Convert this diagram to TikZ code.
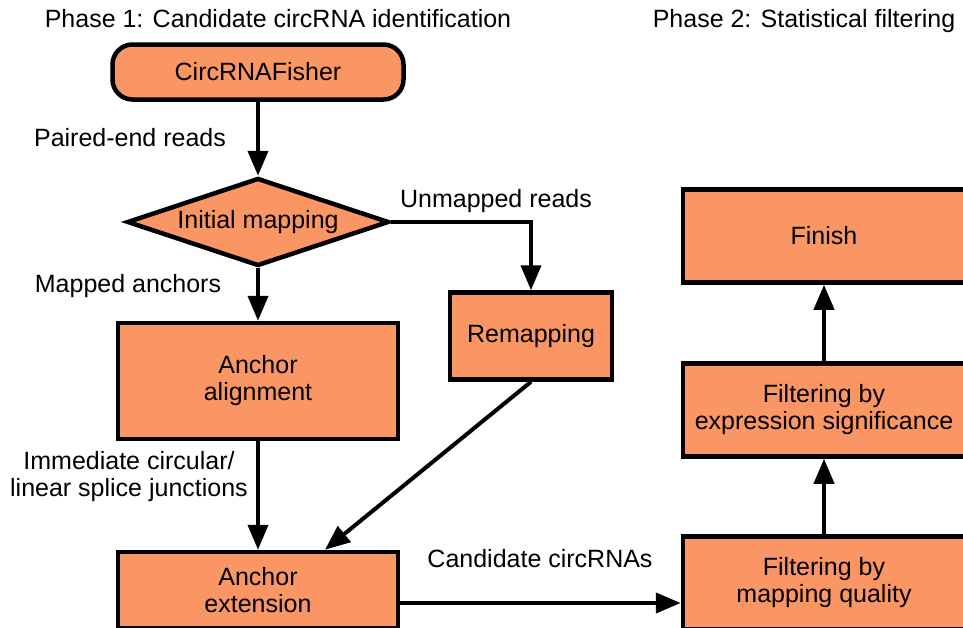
\documentclass[tikz,border=0pt]{standalone}
\usepackage{fontspec}
\setmainfont{Liberation Sans}
\usetikzlibrary{arrows.meta,positioning,shapes.geometric}
\definecolor{salmon}{RGB}{250,150,100}
\definecolor{ink}{RGB}{0,0,0}
\newcommand{\lblsize}{\fontsize{25}{27}\selectfont}
\tikzset{
  >={Triangle[length=25pt,width=20pt]},
  box/.style={draw=ink,fill=salmon,line width=4.5pt,align=center,font=\lblsize,
    inner sep=0pt,minimum width=280pt,minimum height=#1},
  box/.default=116pt,
  term/.style={box,rounded corners=20pt,minimum width=291pt,minimum height=55pt},
  decision/.style={diamond,draw=ink,fill=salmon,line width=4.5pt,font=\lblsize,
    inner sep=0pt,shape aspect=3,minimum width=262pt,minimum height=88pt},
  flow/.style={->,line width=4pt,draw=#1},
  flow/.default=ink,
  tag/.style={font=\lblsize,text=ink,align=center,inner sep=0pt},
}

\begin{document}
\begin{tikzpicture}[x=1pt,y=-1pt]
  \useasboundingbox (0,0) rectangle (963,627);
  % phase titles
  \node[tag,anchor=base] (ph1) at (278,27) {Phase 1: Candidate circRNA identification};
  \node[tag,anchor=base] (ph2) at (804,27) {Phase 2: Statistical filtering};

  % phase 1
  \node[term] (fisher) at (258,72) {CircRNAFisher};
  \node[decision] (init) at (258,222) {Initial mapping};
  \node[box=87pt,minimum width=162pt] (remap) at (531,336) {Remapping};
  \node[box] (align) at (258,381) {Anchor\\alignment};
  \node[box=76pt] (ext) at (258,590) {Anchor\\extension};

  % phase 2
  \foreach \n/\y/\t in {finish/236/Finish,
      expr/410/Filtering by\\expression significance,
      mapq/583/Filtering by\\mapping quality}
    \node[box=93pt,minimum width=282pt] (\n) at (824,\y) {\t};

  % connectors
  \draw[flow] (fisher) -- (init);
  \draw[flow] (init) -- (align);
  \draw[flow] (init.east) -| (remap.north);
  \draw[flow] (align) -- (ext);
  \draw[flow] (remap.south) -- ([xshift=67pt]ext.north);
  \draw[flow] ([yshift=-13pt]ext.east) -- ([yshift=-13pt]ext.east -| mapq.west);
  \draw[flow] (mapq) -- (expr);
  \draw[flow] (expr) -- (finish);

  % labels
  \node[tag,anchor=base] (lpaired) at (130,146) {Paired-end reads};
  \node[tag,anchor=base] (lmapped) at (128,292) {Mapped anchors};
  \node[tag,anchor=base] (lunmap) at (496,207) {Unmapped reads};
  \node[tag] (ljunc) at (129,477) {Immediate circular/\\linear splice junctions};
  \node[tag,anchor=base] (lcand) at (540,567) {Candidate circRNAs};
\end{tikzpicture}
\end{document}
